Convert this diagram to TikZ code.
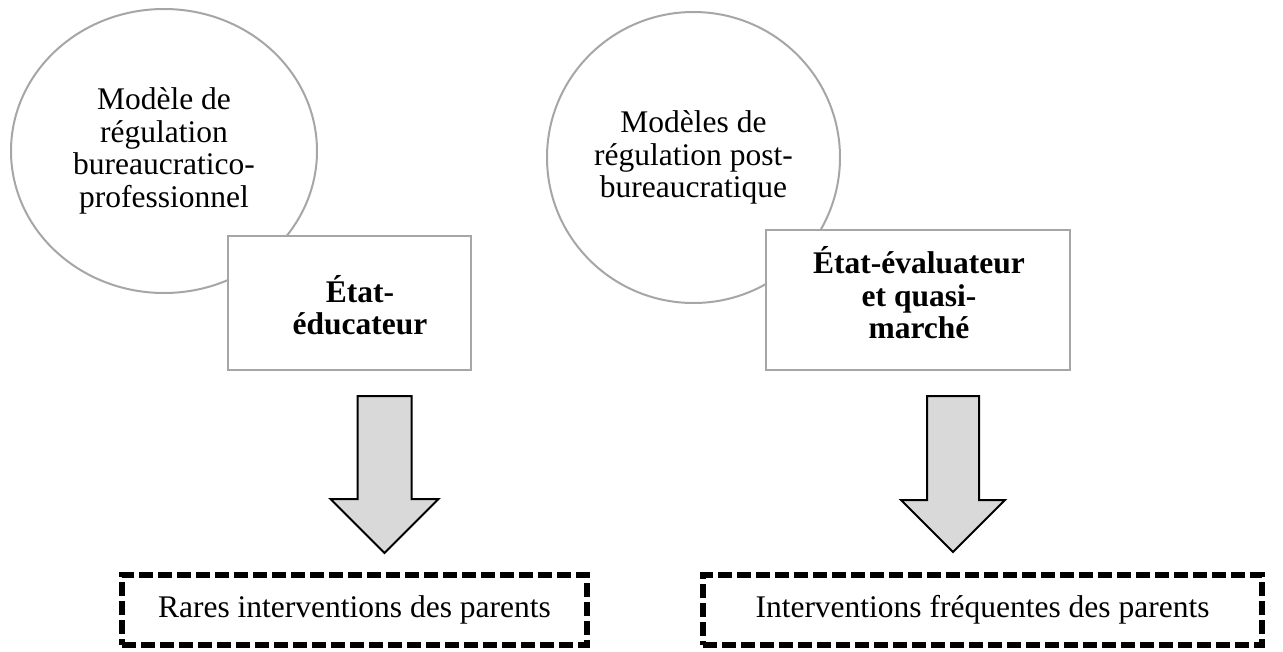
\documentclass[tikz,border=0pt]{standalone}
\usepackage{fontspec}
\setmainfont{Liberation Serif}
\usetikzlibrary{shapes.geometric}
\begin{document}
\begin{tikzpicture}[x=1pt,y=-1pt,
  circ/.style={ellipse, draw=black!35, line width=2pt, inner sep=0pt, align=center, font=\fontsize{31.5}{32.5}\selectfont},
  statebox/.style={rectangle, draw=black!35, fill=white, line width=2pt, inner sep=0pt},
  statetext/.style={align=center, inner sep=0pt, font=\fontsize{31.5}{32.5}\selectfont\bfseries},
  blockarrow/.style={draw=black, fill=black!15, line width=2pt, line join=miter},
  outcome/.style={rectangle, draw=black, line width=5.5pt, dash pattern=on 14pt off 5pt, inner sep=0pt, align=center, font=\fontsize{31.5}{32.5}\selectfont}]
\useasboundingbox (0,0) rectangle (1283,651);
% left column
\node[circ, minimum width=306pt, minimum height=284pt] (m1) at (164,151) {Modèle de\\régulation\\bureaucratico-\\professionnel};
\node[statebox, minimum width=243pt, minimum height=134pt] (s1) at (349.5,303) {};
\node[statetext] (s1t) at (360,305) {État-\\éducateur};
\draw[blockarrow, shift={(384.5,396)}] (-27,0) -- (27,0) -- (27,103) -- (54,103) -- (0,157) -- (-54,103) -- (-27,103) -- cycle;
\node[outcome, minimum width=465pt, minimum height=70pt] (o1) at (354.5,610) {Rares interventions des parents};
% right column
\node[circ, minimum width=293pt, minimum height=291pt] (m2) at (693.5,157.5) {Modèles de\\régulation post-\\bureaucratique};
\node[statebox, minimum width=304pt, minimum height=140pt] (s2) at (918,300) {};
\node[statetext] (s2t) at (919,293) {État-évaluateur\\et quasi-\\marché};
\draw[blockarrow, shift={(953,396)}] (-26,0) -- (26,0) -- (26,104) -- (52,104) -- (0,156) -- (-52,104) -- (-26,104) -- cycle;
\node[outcome, minimum width=559pt, minimum height=70pt] (o2) at (982.5,610) {Interventions fréquentes des parents};
\end{tikzpicture}
\end{document}
